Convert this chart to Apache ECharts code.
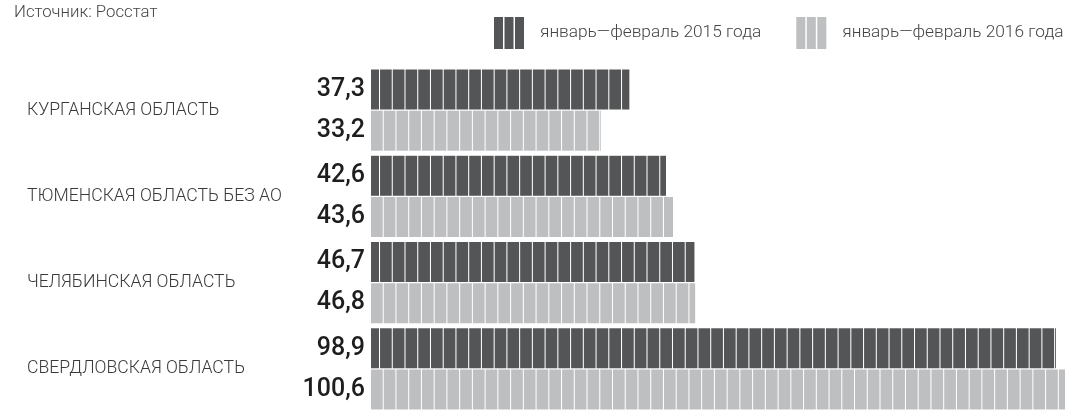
<!DOCTYPE html>
<html><head><meta charset="utf-8">
<style>html,body{margin:0;padding:0;background:#fff}#c{width:1065px;height:419px}</style>
<script src="https://cdn.jsdelivr.net/npm/echarts@6/dist/echarts.min.js"></script>
</head><body><div id="c"></div>
<script>
const categories = ['КУРГАНСКАЯ ОБЛАСТЬ', 'ТЮМЕНСКАЯ ОБЛАСТЬ БЕЗ АО', 'ЧЕЛЯБИНСКАЯ ОБЛАСТЬ', 'СВЕРДЛОВСКАЯ ОБЛАСТЬ'];
const seriesNames = ['январь—февраль 2015 года', 'январь—февраль 2016 года'];
const values2015 = [37.3, 42.6, 46.7, 98.9];
const values2016 = [33.2, 43.6, 46.8, 100.6];
const sourceText = 'Источник: Росстат';

const chart = echarts.init(document.getElementById('c'), null, {renderer: 'canvas'});
const stripeIcon = 'path://M0,0h9v32h-9z M10.5,0h9v32h-9z M21,0h9v32h-9z';
function mk(name, data, color, offset) {
  return {
    type: 'pictorialBar', name: name, data: data,
    symbol: 'rect', symbolRepeat: 55, symbolBoundingData: 101, symbolClip: true,
    symbolSize: [11.7, '100%'], symbolOffset: [offset, 0],
    barWidth: 40, barGap: '3%',
    itemStyle: {color: color},
    label: {show: true, position: 'left', distance: 6,
      formatter: p => String(p.value).replace('.', ','),
      fontFamily: 'Roboto', fontSize: 25, fontWeight: 500, color: '#1e1e1e'},
    emphasis: {disabled: true}, animation: false
  };
}
chart.setOption({
  animation: false,
  title: {text: sourceText, left: 9, top: -1,
    textStyle: {fontFamily: 'Roboto', fontSize: 16.8, fontWeight: 300, color: '#444'}},
  legend: {left: 494, top: 17, width: 700, padding: 0, itemWidth: 30, itemHeight: 32, itemGap: 35,
    icon: stripeIcon, selectedMode: false,
    textStyle: {fontFamily: 'Roboto', fontSize: 17.3, fontWeight: 300, color: '#444', padding: [0, 0, 0, 11]}},
  grid: {left: 371, right: 0, top: 67, bottom: 7, containLabel: false},
  xAxis: {type: 'value', min: 0, max: 100.2, show: false},
  yAxis: {type: 'category', data: categories, inverse: true,
    axisLine: {show: false}, axisTick: {show: false},
    axisLabel: {align: 'left', margin: 344, fontFamily: 'Roboto', fontSize: 17.6, fontWeight: 300, color: '#3a3a3a'}},
  series: [mk(seriesNames[0], values2015, '#545557', -3.7), mk(seriesNames[1], values2016, '#bebfc1', 0)]
});
</script></body></html>
